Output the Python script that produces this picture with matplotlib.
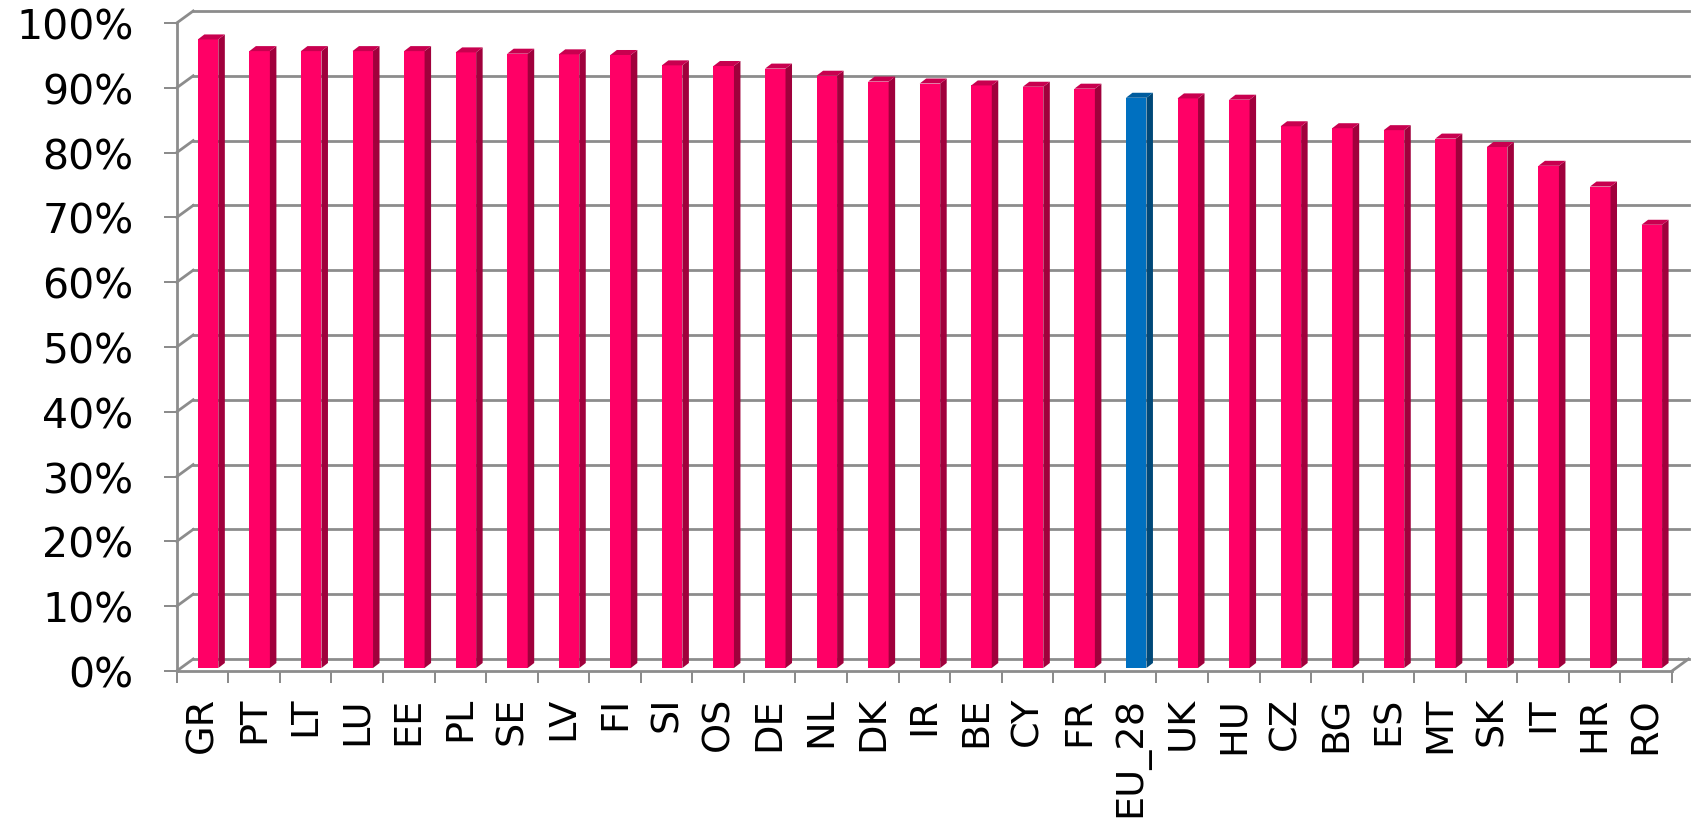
import matplotlib
matplotlib.use("Agg")
import matplotlib.pyplot as plt
from matplotlib.patches import Polygon, Rectangle

countries = ["GR", "PT", "LT", "LU", "EE", "PL", "SE", "LV", "FI", "SI", "OS", "DE", "NL", "DK",
             "IR", "BE", "CY", "FR", "EU_28", "UK", "HU", "CZ", "BG", "ES", "MT", "SK", "IT", "HR", "RO"]
shares = [97.0, 95.2, 95.2, 95.2, 95.2, 95.0, 94.8, 94.7, 94.6, 93.0, 92.9, 92.5, 91.4, 90.5,
          90.2, 89.9, 89.7, 89.4, 88.0, 87.9, 87.7, 83.6, 83.3, 83.0, 81.7, 80.4, 77.5, 74.3, 68.4]
highlight = "EU_28"

W, H, DPI = 1694, 820, 100
fig = plt.figure(figsize=(W / DPI, H / DPI), dpi=DPI)
x0, x1, y0, y1 = 176.7, 1672, 672, 24  # front plane in pixels
ax = fig.add_axes([x0 / W, 1 - y0 / H, (x1 - x0) / W, (y0 - y1) / H])
n = len(countries)
ax.set_xlim(0, n); ax.set_ylim(0, 100)
for s in ax.spines.values(): s.set_visible(False)

px = n / (x1 - x0); py = 100 / (y0 - y1)  # data units per pixel
wdx, wdy = 16.5 * px, 12 * py           # wall depth
bdx, bdy = 5.6 * px, 3 * py             # bar front plane offset
sdx, sdy = 6.5 * px, 5 * py             # bar depth
bw = 20.5 * px
grid = "#8c8c8c"; glw = 2

for v in range(0, 101, 10):
    ax.plot([wdx, n + wdx], [v + wdy, v + wdy], color=grid, lw=glw, clip_on=False, zorder=1)
    ax.plot([0, wdx], [v, v + wdy], color=grid, lw=glw, clip_on=False, zorder=1)
ax.plot([0, n], [0, 0], color=grid, lw=glw, clip_on=False, zorder=1)
ax.plot([n, n + wdx], [0, wdy], color=grid, lw=glw, clip_on=False, zorder=1)
ax.plot([0, 0], [0, 100], color=grid, lw=glw, clip_on=False, zorder=1)

for i, (c, v) in enumerate(zip(countries, shares)):
    if c == highlight:
        front, side, top = "#0070C0", "#004878", "#005C9E"
    else:
        front, side, top = "#FF0066", "#A0003C", "#C8004F"
    left = i + 0.5 + bdx - bw / 2
    base = bdy
    ax.add_patch(Rectangle((left, base), bw, v, facecolor=front, edgecolor="none",
                           clip_on=False, zorder=3))
    r = left + bw
    ax.add_patch(Polygon([(r, base), (r + sdx, base + sdy), (r + sdx, base + v + sdy), (r, base + v)],
                         facecolor=side, edgecolor="none", clip_on=False, zorder=3))
    ax.add_patch(Polygon([(left, base + v), (r, base + v), (r + sdx, base + v + sdy), (left + sdx, base + v + sdy)],
                         facecolor=top, edgecolor="none", clip_on=False, zorder=3))

ax.set_yticks(range(0, 101, 10), [f"{v}%" for v in range(0, 101, 10)])
ax.set_xticks([i + 0.5 for i in range(n)], countries, rotation=90)
ax.set_xticks(range(n + 1), minor=True)
ax.tick_params(axis="y", length=13 * 0.72, width=glw * 0.72, color=grid, pad=30 * 0.72,
               labelsize=29.5)
ax.tick_params(axis="x", which="major", length=0, pad=25 * 0.72, labelsize=27.5)
ax.tick_params(axis="x", which="minor", length=12 * 0.72, width=glw * 0.72, color=grid)

fig.savefig("out.png", dpi=DPI)
